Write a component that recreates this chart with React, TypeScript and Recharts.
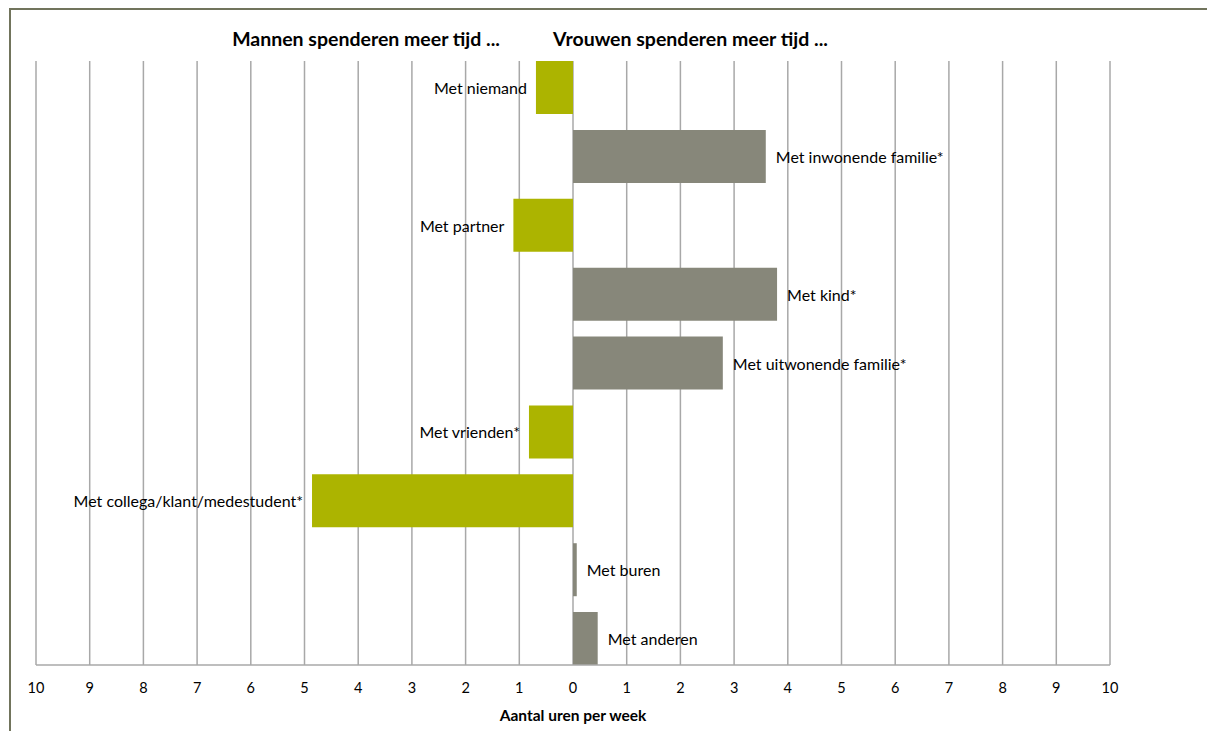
import React from "react";
import {
  BarChart,
  Bar,
  XAxis,
  YAxis,
  CartesianGrid,
  Cell,
  LabelList,
} from "recharts";

// negative = men spend more time, positive = women spend more time
const categories = [
  "Met niemand",
  "Met inwonende familie*",
  "Met partner",
  "Met kind*",
  "Met uitwonende familie*",
  "Met vrienden*",
  "Met collega/klant/medestudent*",
  "Met buren",
  "Met anderen",
];
const uren = [-0.69, 3.59, -1.11, 3.8, 2.79, -0.82, -4.86, 0.07, 0.46];
const xTicks = [-10, -9, -8, -7, -6, -5, -4, -3, -2, -1, 0, 1, 2, 3, 4, 5, 6, 7, 8, 9, 10];

const MEN_COLOR = "#acb400";
const WOMEN_COLOR = "#87877a";
const FONT = "Lato, 'Open Sans', sans-serif";

const data = categories.map((cat, i) => ({ cat, uren: uren[i] }));

function BarLabel(props: any) {
  const { x, y, width, height, value } = props;
  const left = Math.min(x, x + width);
  const right = Math.max(x, x + width);
  const neg = value < 0;
  return (
    <text
      x={neg ? left - 9 : right + 10}
      y={y + height / 2}
      textAnchor={neg ? "end" : "start"}
      dominantBaseline="central"
      fontSize={16}
      fontFamily={FONT}
      fill="#000"
    >
      {categories[props.index]}
    </text>
  );
}

export default function App() {
  return (
    <div
      style={{
        position: "fixed",
        left: 0,
        top: 0,
        width: 1207,
        height: 731,
        overflow: "hidden",
        background: "#fff",
        fontFamily: FONT,
      }}
    >
      <div
        style={{
          position: "absolute",
          left: 9,
          top: 8,
          width: 1400,
          height: 900,
          borderLeft: "2px solid #71745c",
          borderTop: "2px solid #71745c",
        }}
      />
      <div
        style={{
          position: "absolute",
          right: 1207 - 500,
          top: 27,
          fontWeight: 700,
          fontSize: 19.5,
          whiteSpace: "nowrap",
        }}
      >
        Mannen spenderen meer tijd ...
      </div>
      <div
        style={{
          position: "absolute",
          left: 553,
          top: 27,
          fontWeight: 700,
          fontSize: 19.5,
          whiteSpace: "nowrap",
        }}
      >
        Vrouwen spenderen meer tijd ...
      </div>
      <div style={{ position: "absolute", left: 0, top: 0 }}>
        <BarChart
          width={1207}
          height={731}
          data={data}
          layout="vertical"
          margin={{ top: 61, right: 97, bottom: 6, left: 36 }}
          barCategoryGap={8}
        >
          <CartesianGrid
            horizontal={false}
            stroke="#a8a8a8"
            strokeWidth={1.5}
          />
          <XAxis
            type="number"
            domain={[-10, 10]}
            ticks={xTicks}
            interval={0}
            tickFormatter={(v: number) => String(Math.abs(v))}
            tickLine={false}
            tickSize={0}
            tickMargin={18}
            axisLine={{ stroke: "#a8a8a8", strokeWidth: 1.5 }}
            tick={{ fontSize: 14.5, fontFamily: FONT, fill: "#000" }}
            height={60}
            label={{
              value: "Aantal uren per week",
              position: "insideBottom",
              offset: 4,
              style: { fontSize: 15.5, fontWeight: 700, fontFamily: FONT, fill: "#000" },
            }}
          />
          <YAxis
            type="category"
            dataKey="cat"
            hide
            padding={{ top: -8, bottom: -8 }}
          />
          <Bar dataKey="uren" isAnimationActive={false}>
            {data.map((d, i) => (
              <Cell key={i} fill={d.uren < 0 ? MEN_COLOR : WOMEN_COLOR} />
            ))}
            <LabelList dataKey="uren" content={<BarLabel />} />
          </Bar>
        </BarChart>
      </div>
    </div>
  );
}
